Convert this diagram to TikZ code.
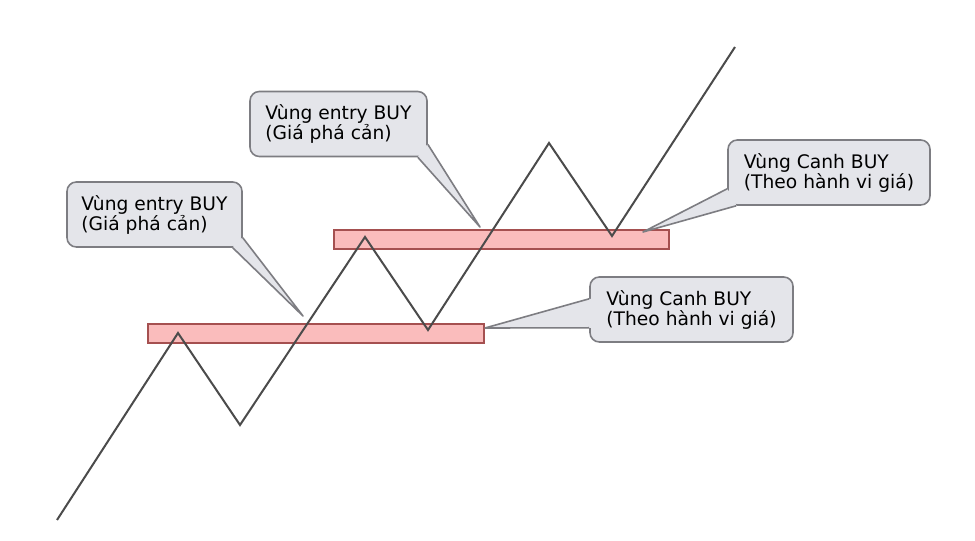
\documentclass[tikz,border=0pt]{standalone}
\usepackage{fontspec}
\setmainfont{DejaVu Sans}
\usetikzlibrary{calc}
\definecolor{zonered}{RGB}{250,188,188}
\definecolor{zoneedge}{RGB}{165,80,80}
\definecolor{boxgray}{RGB}{228,229,234}
\definecolor{boxedge}{RGB}{125,125,130}
\definecolor{priceline}{RGB}{75,75,75}

\begin{document}
\begin{tikzpicture}[x=0.75pt, y=-0.75pt,
    every node/.style={font=\fontsize{14}{15}\selectfont},
    callbox/.style={draw=boxedge, fill=boxgray, line width=1.2pt, rounded corners=7pt,
      align=left, minimum height=48.75pt, minimum width=#1, inner sep=0pt},
    zonebox/.style={draw=zoneedge, fill=zonered, line width=0.9pt,
      minimum height=14.25pt, minimum width=#1, inner sep=0pt},
    tailfill/.style={fill=boxgray},
    tailline/.style={draw=boxedge, line width=1.2pt, line join=round}]
        \useasboundingbox[fill=white] (0,0) rectangle (975,541);

        % Zones
        \node[zonebox=252pt] (zonelo) at (316,333.5) {};
        \node[zonebox=251.25pt] (zonehi) at (501.5,239.5) {};

        % Price path
        \coordinate (p0) at (57,520);
        \coordinate (p1) at (178,333);
        \coordinate (p2) at (240,425);
        \coordinate (p3) at (365,237);
        \coordinate (p4) at (428,330);
        \coordinate (p5) at (549,143);
        \coordinate (p6) at (612,236);
        \coordinate (p7) at (735,47);
        \draw[priceline, line width=1.5pt, line join=miter]
          (p0) -- (p1) -- (p2) -- (p3) -- (p4) -- (p5) -- (p6) -- (p7);

        % Callout boxes
        \node[callbox=131.25pt] (entrylo) at (154.5,214.5) {Vùng entry BUY\\(Giá phá cản)};
        \node[callbox=132.75pt] (entryhi) at (338.5,124) {Vùng entry BUY\\(Giá phá cản)};
        \node[callbox=151.5pt] (canhhi) at (829,172.5) {Vùng Canh BUY\\(Theo hành vi giá)};
        \node[callbox=152.25pt] (canhlo) at (691.5,309.5) {Vùng Canh BUY\\(Theo hành vi giá)};

        % Tails
        \coordinate (tip1) at (303,316);
        \fill[tailfill] ($(entrylo.south east)+(-10,0)$) -- (tip1) -- ($(entrylo.south east)+(0,-10)$)
          -- ($(entrylo.south east)+(-7,-7)$) -- cycle;
        \draw[tailline] ($(entrylo.south east)+(-10,0)$) -- (tip1) -- ($(entrylo.south east)+(0,-10)$);

        \coordinate (tip2) at (480,227);
        \fill[tailfill] ($(entryhi.south east)+(-10,0)$) -- (tip2) -- ($(entryhi.south east)+(0,-13)$)
          -- ($(entryhi.south east)+(-7,-7)$) -- cycle;
        \draw[tailline] ($(entryhi.south east)+(-10,0)$) -- (tip2) -- ($(entryhi.south east)+(0,-13)$);

        \coordinate (tip3) at (643,232);
        \fill[tailfill] ($(canhhi.south west)+(0,-17)$) -- (tip3) -- ($(canhhi.south west)+(9,0)$)
          -- ($(canhhi.south west)+(7,-7)$) -- cycle;
        \draw[tailline] ($(canhhi.south west)+(0,-17)$) -- (tip3) -- ($(canhhi.south west)+(9,0)$);

        \coordinate (tip4) at (485,328);
        \fill[tailfill] ($(canhlo.south west)+(0,-44)$) -- (tip4) -- ($(canhlo.south west)+(0,-15)$)
          -- ($(canhlo.south west)+(4,-15)$) -- ($(canhlo.south west)+(4,-44)$) -- cycle;
        \draw[tailline] ($(canhlo.south west)+(0,-44)$) -- (tip4) -- ($(canhlo.south west)+(0,-15)$);
      \end{tikzpicture}
\end{document}
